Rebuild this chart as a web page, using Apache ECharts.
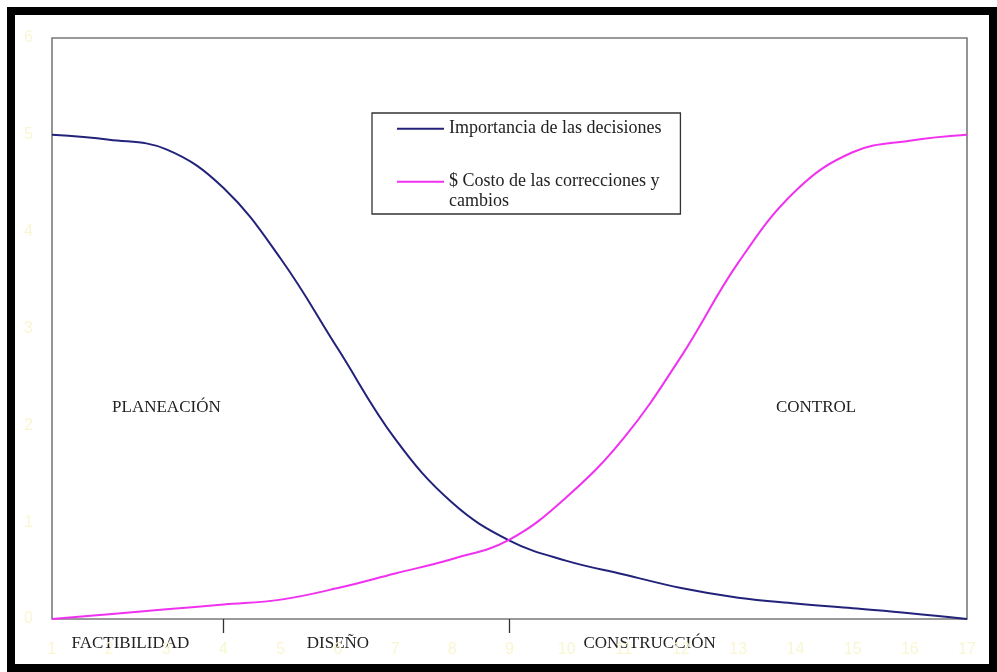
<!DOCTYPE html>
<html>
<head>
<meta charset="utf-8">
<script src="https://cdn.jsdelivr.net/npm/echarts@6/dist/echarts.min.js"></script>
<style>
html,body{margin:0;padding:0;background:#fff;}
#c{width:997px;height:672px;}
</style>
</head>
<body>
<div id="c"></div>
<script>
// ---- data ----
var xValues = [1,2,3,4,5,6,7,8,9,10,11,12,13,14,15,16,17];
var importancia = [5.0,4.95,4.85,4.45,3.72,2.79,1.86,1.2,0.81,0.6,0.46,0.32,0.22,0.16,0.11,0.06,0.0];
var costo = [0.0,0.05,0.1,0.15,0.2,0.32,0.47,0.62,0.82,1.26,1.87,2.71,3.68,4.42,4.82,4.94,5.0];
var seriesNames = ['Importancia de las decisiones', '$ Costo de las correcciones y cambios'];
var phaseTicks = [4, 9];
var phaseNames = ['FACTIBILIDAD', 'DISEÑO', 'CONSTRUCCIÓN'];
var phaseCenters = [2.37, 6.0, 11.45];
var regionNames = ['PLANEACIÓN', 'CONTROL'];
var regionCenters = [[3.0, 2.18], [14.36, 2.18]];

function pairs(ys){ return xValues.map(function(x,i){ return [x, ys[i]]; }); }

var chart = echarts.init(document.getElementById('c'), null, {renderer:'canvas'});
var serif = 'Liberation Serif';
var option = {
  animation: false,
  backgroundColor: '#fff',
  grid: {left: 52, top: 38, width: 915, height: 581, show: true, borderColor: '#7a7a7a', borderWidth: 1.6, backgroundColor: 'transparent', containLabel: false},
  legend: {
    orient: 'vertical', left: 372, top: 113,
    padding: [6, 19, 3, 25],
    borderColor: '#333', borderWidth: 1.3,
    backgroundColor: '#fff',
    itemWidth: 47, itemHeight: 2, itemGap: 14, itemTextGap: -1,
    icon: 'rect',
    selectedMode: false,
    textStyle: {fontFamily: serif, fontSize: 18, color: '#222', lineHeight: 19.5},
    formatter: function(name){
      if (name === seriesNames[1]) return '\n$ Costo de las correcciones y\ncambios';
      return name;
    },
    data: seriesNames
  },
  xAxis: {
    type: 'value', min: 1, max: 17, interval: 1,
    axisLine: {show: false},
    splitLine: {show: false},
    axisTick: {show: true, customValues: phaseTicks, length: 14, lineStyle: {color: '#333', width: 1.3}},
    axisLabel: {color: '#f9f6d2', fontFamily: 'Arial', fontSize: 16, margin: 23}
  },
  yAxis: {
    type: 'value', min: 0, max: 6, interval: 1,
    axisLine: {show: false}, axisTick: {show: false}, splitLine: {show: false},
    axisLabel: {color: '#f9f6d2', fontFamily: 'Arial', fontSize: 16, margin: 19}
  },
  series: [
    {name: seriesNames[0], type: 'line', data: pairs(importancia), smooth: 0.4, symbol: 'none',
     lineStyle: {color: '#22227a', width: 2}, itemStyle: {color: '#22227a'}},
    {name: seriesNames[1], type: 'line', data: pairs(costo), smooth: 0.4, symbol: 'none',
     lineStyle: {color: '#f032f0', width: 2}, itemStyle: {color: '#f032f0'}}
  ]
};
chart.setOption(option);

var graphics = [];
regionNames.forEach(function(t, i){
  var p = chart.convertToPixel({gridIndex: 0}, regionCenters[i]);
  graphics.push({type: 'text', x: p[0], y: p[1], style: {text: t, fontFamily: serif, fontSize: 17, fill: '#222', align: 'center', verticalAlign: 'middle'}});
});
var axisY = chart.convertToPixel({gridIndex: 0}, [1, 0])[1];
phaseNames.forEach(function(t, i){
  var p = chart.convertToPixel({gridIndex: 0}, [phaseCenters[i], 0]);
  graphics.push({type: 'text', x: p[0], y: axisY + 25, style: {text: t, fontFamily: serif, fontSize: 17, fill: '#222', align: 'center', verticalAlign: 'middle'}});
});
graphics.push({type: 'rect', shape: {x: 11, y: 11, width: 982, height: 657}, style: {fill: 'none', stroke: '#000', lineWidth: 8}, z: 100});
chart.setOption({graphic: graphics});
</script>
</body>
</html>
